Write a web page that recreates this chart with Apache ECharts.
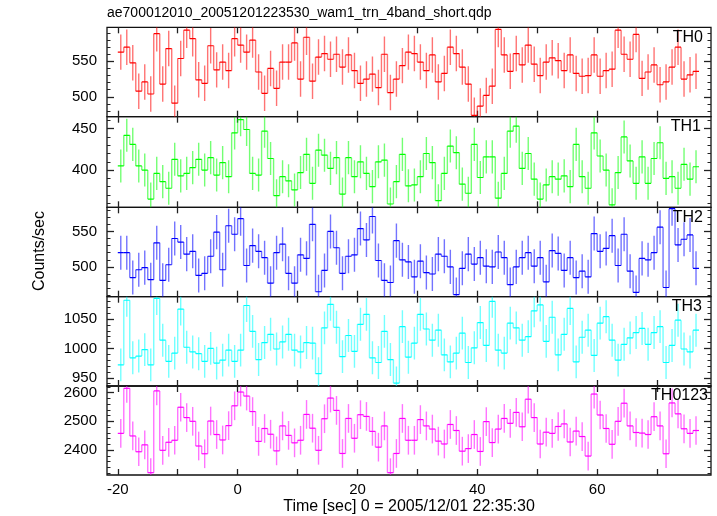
<!DOCTYPE html>
<html><head><meta charset="utf-8">
<script src="https://cdn.jsdelivr.net/npm/echarts@6/dist/echarts.min.js"></script>
<style>html,body{margin:0;padding:0;background:#fff}#c{width:717px;height:516px}</style>
</head><body><div id="c"></div>
<script>
// Bin start times (sec), 1-s bins from -20 to 76
const binStart = -20;
const binWidth = 1;

const TH0 = [563,570,548,508,521,504,589,518,568,491,554,594,582,524,519,572,538,549,537,582,
  573,563,580,535,505,540,512,549,549,576,525,584,522,556,561,553,560,542,559,537,
  519,525,532,513,560,506,525,544,563,561,549,537,559,521,533,570,561,542,518,474,
  487,502,515,595,559,536,561,545,573,546,530,549,555,551,537,559,533,529,530,559,
  529,537,539,594,560,553,588,526,535,545,517,521,542,570,525,531,536];
const TH1 = [405,442,431,405,400,365,396,386,378,413,393,396,403,413,400,415,394,409,392,445,
  461,449,396,394,447,414,369,392,387,376,397,419,384,424,418,402,415,371,415,392,
  410,396,380,410,412,359,386,419,381,382,392,420,409,363,396,429,421,383,372,431,
  391,416,416,366,396,447,453,402,420,389,365,382,392,389,393,380,431,392,378,445,
  417,400,358,397,440,411,384,416,384,414,433,390,392,378,407,389,404];
const TH2 = [520,520,485,496,499,482,534,481,503,540,535,518,522,488,491,515,549,496,558,546,
  568,502,530,522,513,477,520,532,491,477,517,512,560,465,495,550,527,491,515,517,
  554,538,571,509,481,478,537,510,507,486,508,492,490,518,515,500,461,498,518,504,
  513,501,500,521,513,475,500,513,520,501,513,479,523,519,495,513,485,494,486,547,
  522,526,544,502,546,494,464,512,510,520,556,471,582,531,539,545,498];
const TH3 = [972,1082,984,987,998,972,1085,1014,978,992,1067,1002,994,991,978,1000,975,980,997,978,
  997,1073,1029,981,1010,1024,999,1011,1024,997,994,1010,1009,957,1035,1075,1036,986,1022,995,
  1041,1058,984,976,1029,981,941,1037,985,1009,1058,1033,1014,1031,989,977,992,1026,976,1001,
  1044,1005,1080,997,992,1043,1035,1014,1020,1064,1074,1012,1053,989,1024,1068,977,1019,1031,988,
  1043,1054,1014,980,1007,1018,1027,1034,1007,1027,1037,976,1005,1048,999,994,1031];
const TH0123 = [2458,2615,2449,2394,2418,2321,2606,2399,2427,2434,2549,2513,2500,2414,2387,2501,2454,2435,2485,2554,
  2602,2588,2534,2430,2475,2455,2397,2484,2451,2425,2434,2524,2476,2399,2509,2581,2538,2388,2510,2441,
  2523,2517,2465,2410,2484,2321,2388,2510,2434,2434,2506,2484,2473,2431,2421,2489,2468,2396,2405,2454,
  2395,2499,2426,2473,2510,2493,2531,2481,2577,2513,2421,2462,2458,2482,2491,2428,2466,2447,2379,2595,
  2522,2475,2420,2500,2563,2484,2461,2459,2454,2516,2484,2387,2564,2526,2474,2458,2468];

const panelNames = ['TH0', 'TH1', 'TH2', 'TH3', 'TH0123'];
const panelSeries = [TH0, TH1, TH2, TH3, TH0123];
const panelErrors = [25, 20, 24, 28, 50];
const panelColors = ['#ff0000', '#00ff00', '#0000ff', '#00ffff', '#ff00ff'];
const yRanges = [[472, 598], [355, 464.5], [458, 584], [936, 1088], [2313, 2623]];
const yMajorTicks = [[500, 550], [400, 450], [500, 550], [950, 1000, 1050], [2400, 2500, 2600]];
const yMinorStep = [10, 10, 10, 10, 20];
const xRange = [-21.8, 79];
const xMajorTicks = [-20, -10, 0, 10, 20, 30, 40, 50, 60, 70];
const xTickLabels = [-20, 0, 20, 40, 60];

const titleText = 'ae700012010_20051201223530_wam1_trn_4band_short.qdp';
const xTitle = 'Time [sec] 0 = 2005/12/01 22:35:30';
const yTitle = 'Counts/sec';

const gridTops = [27.3, 116.7, 207.3, 296.7, 386];
const gridBottom = 475;
const gridLeft = 107, gridRight = 711;
const labelRight = [703, 701, 703, 702, 708];
const FONT = 'Liberation Sans, Arial, Helvetica, sans-serif';

function minorTicks(range, step) {
  const out = [];
  for (let v = Math.ceil(range[0] / step) * step; v <= range[1]; v += step) out.push(v);
  return out;
}
const plain = v => String(v);

const grids = [], xAxes = [], yAxes = [], series = [], graphics = [];
panelNames.forEach((name, k) => {
  const top = gridTops[k];
  const h = (k < 4 ? gridTops[k + 1] : gridBottom) - top;
  grids.push({left: gridLeft, width: gridRight - gridLeft, top: top, height: h,
    show: true, borderColor: '#111', borderWidth: 1.3, backgroundColor: 'transparent'});
  ['bottom', 'top'].forEach(pos => {
    xAxes.push({type: 'value', gridIndex: k, position: pos, min: xRange[0], max: xRange[1],
      axisLine: {show: false, onZero: false}, splitLine: {show: false},
      axisTick: {show: true, inside: true, length: 6, customValues: xMajorTicks, lineStyle: {color: '#222', width: 1.3}},
      axisLabel: {show: k === 4 && pos === 'bottom', customValues: xTickLabels, margin: 7, formatter: plain,
        fontSize: 15, color: '#000', fontFamily: FONT}});
  });
  const minors = minorTicks(yRanges[k], yMinorStep[k]);
  ['left', 'right'].forEach(pos => {
    yAxes.push({type: 'value', gridIndex: k, position: pos, min: yRanges[k][0], max: yRanges[k][1],
      axisLine: {show: false, onZero: false}, splitLine: {show: false},
      axisTick: {show: true, inside: true, length: 7, customValues: yMajorTicks[k], lineStyle: {color: '#222', width: 1.3}},
      axisLabel: {show: pos === 'left', customValues: yMajorTicks[k], margin: 10, formatter: plain,
        fontSize: 15, color: '#000', fontFamily: FONT}});
    yAxes.push({type: 'value', gridIndex: k, position: pos, min: yRanges[k][0], max: yRanges[k][1],
      axisLine: {show: false, onZero: false}, splitLine: {show: false},
      axisTick: {show: true, inside: true, length: 3.5, customValues: minors, lineStyle: {color: '#222', width: 1}},
      axisLabel: {show: false}});
  });
  const vals = panelSeries[k];
  const data = vals.map((v, i) => [binStart + binWidth * (i + 0.5), v, i > 0 ? vals[i - 1] : v]);
  const color = panelColors[k];
  const err = panelErrors[k];
  series.push({
    type: 'custom', xAxisIndex: 2 * k, yAxisIndex: 4 * k, clip: true, silent: true,
    data: data,
    renderItem: function (params, api) {
      const x = api.value(0), y = api.value(1), prev = api.value(2);
      const a = api.coord([x - binWidth / 2, y]);
      const b = api.coord([x + binWidth / 2, y]);
      const lo = api.coord([x, y - err]);
      const hi = api.coord([x, y + err]);
      const p = api.coord([x - binWidth / 2, prev]);
      return {type: 'group', children: [
        {type: 'line', shape: {x1: a[0], y1: a[1], x2: b[0], y2: b[1]}, style: {stroke: color, lineWidth: 1.2}},
        {type: 'line', shape: {x1: lo[0], y1: lo[1], x2: hi[0], y2: hi[1]}, style: {stroke: color, lineWidth: 1.4, opacity: 0.55}},
        {type: 'line', shape: {x1: a[0], y1: p[1], x2: a[0], y2: a[1]}, style: {stroke: color, lineWidth: 1.4, opacity: 0.55}}
      ]};
    }
  });
  graphics.push({type: 'text', x: labelRight[k], y: top + 10, z: 100,
    style: {text: name, font: '16px ' + FONT, fill: '#000', textAlign: 'right', textVerticalAlign: 'middle'}});
});

graphics.push({type: 'text', x: gridLeft, y: 13,
  style: {text: titleText, font: '14px ' + FONT, fill: '#000', textAlign: 'left', textVerticalAlign: 'middle'}});
graphics.push({type: 'text', x: (gridLeft + gridRight) / 2, y: 507,
  style: {text: xTitle, font: '16px ' + FONT, fill: '#000', textAlign: 'center', textVerticalAlign: 'middle'}});
graphics.push({type: 'text', x: 40, y: 251, rotation: Math.PI / 2,
  style: {text: yTitle, font: '16px ' + FONT, fill: '#000', textAlign: 'center', textVerticalAlign: 'middle'}});

const chart = echarts.init(document.getElementById('c'), null, {renderer: 'canvas'});
chart.setOption({
  animation: false,
  backgroundColor: '#fff',
  grid: grids,
  xAxis: xAxes,
  yAxis: yAxes,
  series: series,
  graphic: graphics
});
</script>
</body></html>
